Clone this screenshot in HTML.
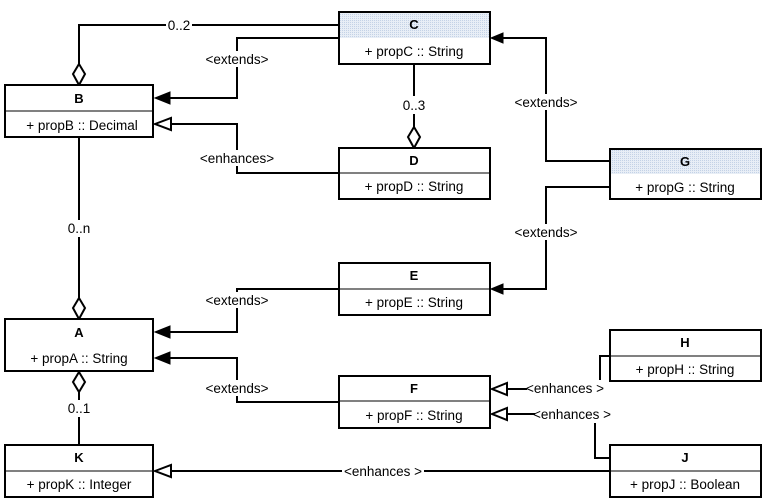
<!DOCTYPE html>
<html><head><style>
html,body{margin:0;padding:0;background:#fff}
svg{display:block}
text{font-family:"Liberation Sans",Arial,sans-serif;font-size:13.5px;fill:#000}
.t{font-weight:bold;text-anchor:middle;font-size:13px}
.p{text-anchor:middle}
.l{text-anchor:middle}
</style></head><body>
<svg width="765" height="502" viewBox="0 0 765 502" xmlns="http://www.w3.org/2000/svg">
<defs>
<pattern id="dots" width="2" height="2" patternUnits="userSpaceOnUse">
<rect width="2" height="2" fill="#e8eef6"/><rect width="1" height="1" fill="#c4d2e6"/>
</pattern>
</defs>
<g fill="none" stroke="#000" stroke-width="2">
<polyline points="339,25 79,25 79,64"/>
<polyline points="339,38 237,38 237,98 165,98"/>
<polyline points="339,173 237,173 237,124 165,124"/>
<polyline points="414,64 414,127"/>
<polyline points="79,137 79,298"/>
<polyline points="610,161 546,161 546,38 502,38"/>
<polyline points="610,187 546,187 546,289 502,289"/>
<polyline points="339,289 237,289 237,332 165,332"/>
<polyline points="339,402 237,402 237,358 165,358"/>
<polyline points="79,392 79,445"/>
<polyline points="610,356 600,356 600,380"/>
<polyline points="527,389 502,389"/>
<polyline points="595,423 595,458 610,458"/>
<polyline points="535,414 502,414"/>
<polyline points="610,471 165,471"/>
</g>
<g fill="#fff">
<rect x="166" y="18" width="26" height="14"/>
<rect x="200" y="51" width="74" height="16"/>
<rect x="195" y="150" width="84" height="16"/>
<rect x="400" y="96" width="28" height="18"/>
<rect x="66" y="220" width="28" height="17"/>
<rect x="509" y="94" width="74" height="16"/>
<rect x="509" y="224" width="74" height="16"/>
<rect x="200" y="292" width="74" height="16"/>
<rect x="200" y="380" width="74" height="16"/>
<rect x="66" y="400" width="26" height="17"/>
<rect x="342" y="463" width="82" height="16"/>
</g>
<g fill="#000" stroke="#000" stroke-width="1">
<polygon points="155,98 170,92 170,104"/>
<polygon points="491,38 503,33 503,43"/>
<polygon points="491,289 503,284 503,294"/>
<polygon points="155,332 170,326 170,338"/>
<polygon points="155,358 170,352 170,364"/>
</g>
<g fill="#fff" stroke="#000" stroke-width="2">
<polygon points="155,124 171,118 171,130"/>
<polygon points="155,471 171,465 171,477"/>
<polygon points="492,389 507,383 507,395"/>
<polygon points="492,414 507,408 507,420"/>
<polygon points="79,64 85,74 79,85 73,74"/>
<polygon points="414,127 420,137 414,148 408,137"/>
<polygon points="79,298 85,308 79,319 73,308"/>
<polygon points="79,372 85,382 79,392 73,382"/>
</g>
<g stroke="#000" stroke-width="2" fill="#fff">
<rect x="5" y="85" width="148" height="52"/>
<rect x="339" y="12" width="151" height="52"/>
<rect x="339" y="148" width="151" height="51"/>
<rect x="610" y="149" width="151" height="50"/>
<rect x="339" y="263" width="151" height="52"/>
<rect x="5" y="319" width="148" height="52"/>
<rect x="339" y="376" width="151" height="52"/>
<rect x="610" y="330" width="151" height="51"/>
<rect x="5" y="445" width="148" height="52"/>
<rect x="610" y="445" width="151" height="52"/>
</g>
<rect x="340" y="13" width="149" height="25" fill="url(#dots)"/>
<rect x="611" y="150" width="149" height="24" fill="url(#dots)"/>
<g stroke="#000" stroke-width="1">
<line x1="5" y1="111" x2="153" y2="111"/>
<line x1="339" y1="173" x2="490" y2="173"/>
<line x1="339" y1="289" x2="490" y2="289"/>
<line x1="339" y1="401" x2="490" y2="401"/>
<line x1="610" y1="356" x2="761" y2="356"/>
<line x1="5" y1="471" x2="153" y2="471"/>
<line x1="610" y1="471" x2="761" y2="471"/>
</g>
<text class="t" x="79" y="103">B</text><text class="p" x="82" y="130">+ propB :: Decimal</text>
<text class="t" x="414" y="29">C</text><text class="p" x="414" y="56">+ propC :: String</text>
<text class="t" x="414" y="165">D</text><text class="p" x="414" y="191">+ propD :: String</text>
<text class="t" x="685" y="166">G</text><text class="p" x="685" y="192">+ propG :: String</text>
<text class="t" x="414" y="280">E</text><text class="p" x="414" y="307">+ propE :: String</text>
<text class="t" x="79" y="337">A</text><text class="p" x="79" y="363">+ propA :: String</text>
<text class="t" x="414" y="393">F</text><text class="p" x="414" y="420">+ propF :: String</text>
<text class="t" x="685" y="347">H</text><text class="p" x="685" y="374">+ propH :: String</text>
<text class="t" x="79" y="462">K</text><text class="p" x="79" y="489">+ propK :: Integer</text>
<text class="t" x="685" y="462">J</text><text class="p" x="685" y="489">+ propJ :: Boolean</text>
<text class="l" x="179" y="30">0..2</text>
<text class="l" x="237" y="64">&lt;extends&gt;</text>
<text class="l" x="237" y="163">&lt;enhances&gt;</text>
<text class="l" x="414" y="110">0..3</text>
<text class="l" x="79" y="233">0..n</text>
<text class="l" x="546" y="107">&lt;extends&gt;</text>
<text class="l" x="546" y="237">&lt;extends&gt;</text>
<text class="l" x="237" y="305">&lt;extends&gt;</text>
<text class="l" x="237" y="393">&lt;extends&gt;</text>
<text class="l" x="79" y="413">0..1</text>
<text class="l" x="565" y="393">&lt;enhances &gt;</text>
<text class="l" x="572" y="419">&lt;enhances &gt;</text>
<text class="l" x="383" y="476">&lt;enhances &gt;</text>
</svg>
</body></html>
